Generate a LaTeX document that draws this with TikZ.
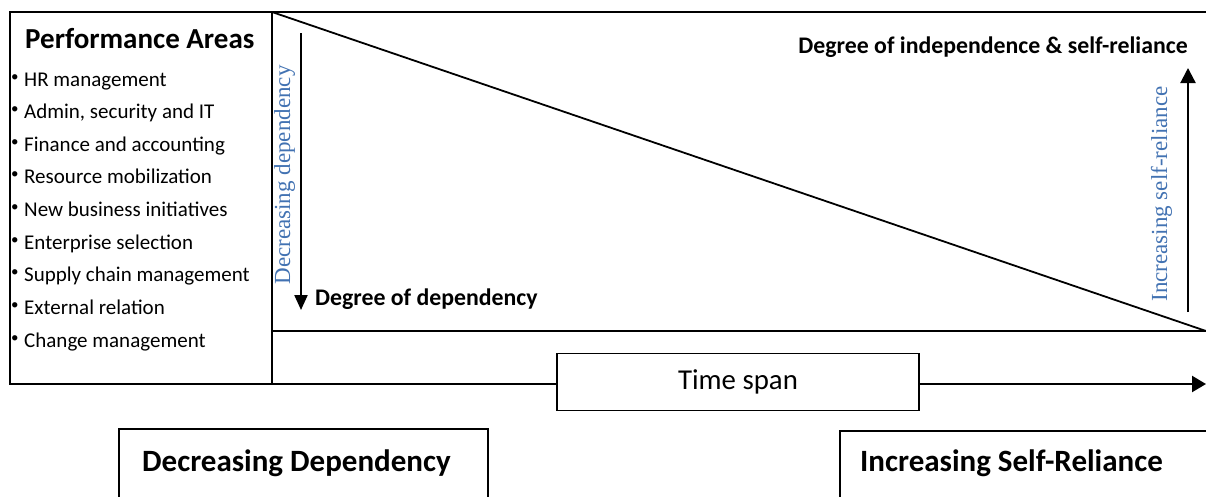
\documentclass[tikz,border=0pt]{standalone}
\usepackage{fontspec}
\setmainfont{Carlito}
\newfontfamily\timesfont{Liberation Serif}
\usetikzlibrary{arrows.meta}
\definecolor{axisblue}{RGB}{66,114,178}
\newcommand\bul{\makebox[12pt][l]{\hspace*{-1pt}\raisebox{5pt}{\fontsize{15}{15}\selectfont\textbullet}}}
\begin{document}
\begin{tikzpicture}[x=1pt,y=-1pt,
  frame/.style={draw=black, line width=1.4pt},
  rule/.style={draw=black, line width=1.8pt},
  txt/.style={inner sep=0pt, anchor=base west},
  item/.style={txt, font=\fontsize{21}{21}\selectfont},
  heading/.style={txt, font=\fontsize{29}{29}\selectfont\bfseries},
  axislabel/.style={inner sep=0pt, font=\fontsize{23.8}{24}\selectfont\bfseries},
  trend/.style={inner sep=0pt, rotate=90, anchor=base, text=axisblue,
    font=\timesfont\fontsize{23}{23}\selectfont},
  phase/.style={txt, font=\fontsize{31}{31}\selectfont\bfseries},
  tsbox/.style={draw=black, line width=1.4pt, fill=white, minimum width=362pt,
    minimum height=57pt, inner sep=0pt, font=\fontsize{28.8}{29}\selectfont},
  arrowline/.style={line width=2.2pt}
]
\useasboundingbox (0,0) rectangle (1206,496);
\clip (0,0) rectangle (1206,496);

% key corners of the chart
\coordinate (tl) at (10,12);
\coordinate (c0) at (272,12);
\coordinate (tr) at (1206,12);
\coordinate (bl) at (272,331);
\coordinate (br) at (1206,331);
\coordinate (ax0) at (272,384);
\coordinate (ax1) at (1206,384);

% performance areas panel
\draw[frame] (10,12) rectangle (272,384);
\node[heading] (title) at (25,48) {Performance Areas};
\foreach \t [count=\i from 0] in {HR management, {Admin, security and IT},
    Finance and accounting, Resource mobilization, New business initiatives,
    Enterprise selection, Supply chain management, External relation,
    Change management}
  \node[item] (item\i) at (12,{86+32.66*\i}) {\bul\t};

% dependency triangle
\draw[rule] (tl) -- (tr);
\draw[rule] (c0) -- (br);
\draw[rule, line width=2.2pt] (bl) -- (br);
\draw[frame] (c0) -- (ax0);

% time axis
\node[tsbox] (ts) at (738,382) {Time span};
\draw[arrowline] (ax0) -- (ax0 -| ts.west);
\draw[arrowline, -{Triangle[length=14pt,width=16pt]}] (ax1 -| ts.east) -- (ax1);

% decreasing dependency arrow
\coordinate (d0) at (301,33);
\coordinate (d1) at (301,310);
\draw[arrowline, -{Triangle[length=15pt,width=13pt]}] (d0) -- (d1);
\node[trend] (dec) at (290,175) {Decreasing dependency};
\node[axislabel, anchor=base west] (dep) at (315,305) {Degree of dependency};

% increasing self-reliance arrow
\coordinate (u0) at (1188,312);
\coordinate (u1) at (1188,68);
\draw[arrowline, -{Triangle[length=15pt,width=15pt]}] (u0) -- (u1);
\node[trend] (inc) at (1167,194) {Increasing self-reliance};
\node[axislabel, anchor=base east] (indep) at (1188,53) {Degree of independence \& self-reliance};

% phase boxes
\draw[frame] (119,429) rectangle (488,530);
\node[phase] (pdec) at (142,471) {Decreasing Dependency};
\draw[frame] (840,431) rectangle (1240,530);
\node[phase] (pinc) at (860,471) {Increasing Self-Reliance};
\end{tikzpicture}
\end{document}
